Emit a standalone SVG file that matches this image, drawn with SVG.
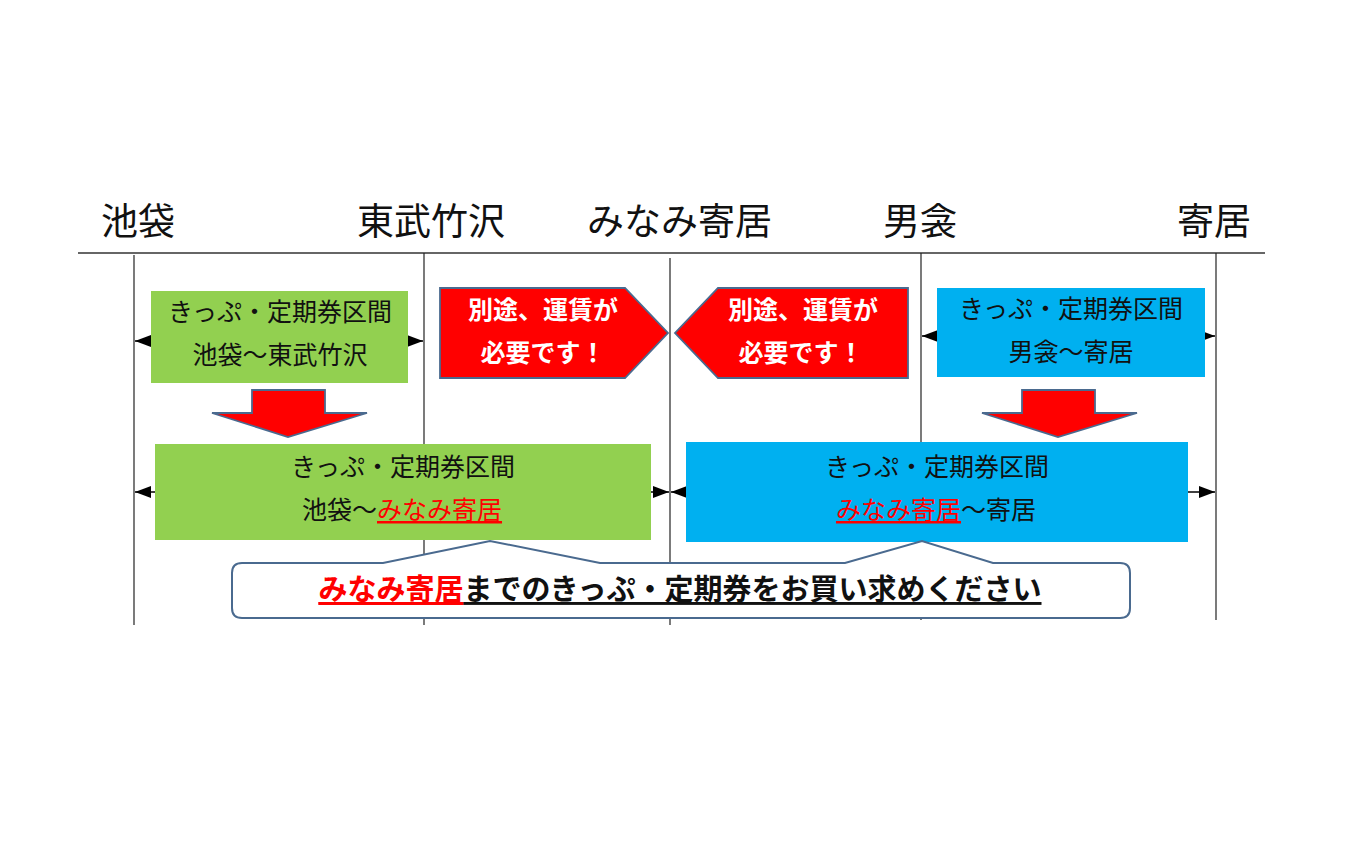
<svg xmlns="http://www.w3.org/2000/svg" width="1350" height="844" viewBox="0 0 1350 844">
<style>
.stn{font-family:"Noto Sans CJK JP","Noto Sans",sans-serif;font-size:37px;fill:#111}
.bt{font-family:"Noto Sans CJK JP","Noto Sans",sans-serif;font-size:25px;fill:#111;text-anchor:middle}
.wt{font-family:"Noto Sans CJK JP","Noto Sans",sans-serif;font-size:25px;font-weight:bold;fill:#fff;text-anchor:middle}
.ct{font-family:"Noto Sans CJK JP","Noto Sans",sans-serif;font-size:29px;font-weight:bold;fill:#111;text-anchor:middle}
.red{fill:#ff0000}
.vl{stroke:#222;stroke-width:1.2;fill:none}
.dl{stroke:#000;stroke-width:1.5;marker-start:url(#ah);marker-end:url(#ah)}
.green{fill:#92d050}
.blue{fill:#00b0f0}
.pent{fill:#ff0000;stroke:#4a6a8f;stroke-width:1.8}
</style>
<defs>
<marker id="ah" markerUnits="userSpaceOnUse" markerWidth="16" markerHeight="12" refX="16" refY="6" orient="auto-start-reverse">
<path d="M0,0 L16,6 L0,12 Z" fill="#000"/>
</marker>
</defs>
<rect width="1350" height="844" fill="#fff"/>
<g id="stations">
<text class="stn" x="101" y="235">池袋</text>
<text class="stn" x="357" y="235">東武竹沢</text>
<text class="stn" x="587" y="235">みなみ寄居</text>
<text class="stn" x="883" y="235">男衾</text>
<text class="stn" x="1177" y="235">寄居</text>
</g>
<g id="connectors">
<line x1="78" y1="253" x2="1265" y2="253" stroke="#333" stroke-width="1.5"/>
<line class="vl" x1="134" y1="255" x2="134" y2="625"/>
<line class="vl" x1="424" y1="253" x2="424" y2="625"/>
<line class="vl" x1="670" y1="258" x2="670" y2="625"/>
<line class="vl" x1="921" y1="253" x2="921" y2="620"/>
<line class="vl" x1="1216" y1="253" x2="1216" y2="620"/>
<line class="dl" x1="135" y1="341" x2="423" y2="341"/>
<line class="dl" x1="922" y1="336" x2="1215" y2="336"/>
<line class="dl" x1="135" y1="492" x2="669" y2="492"/>
<line class="dl" x1="671" y1="492" x2="1215" y2="492"/>
</g>
<g id="box-ikebukuro-tobu">
<rect class="green" x="151" y="291" width="257" height="92"/>
<text class="bt" x="280" y="321">きっぷ・定期券区間</text>
<text class="bt" x="280" y="364">池袋～東武竹沢</text>
</g>
<g id="fare-left">
<polygon class="pent" points="440,288 625,288 668,333 625,378 440,378"/>
<text class="wt" x="543" y="319">別途、運賃が</text>
<text class="wt" x="543" y="362">必要です！</text>
</g>
<g id="fare-right">
<polygon class="pent" points="908,288 718,288 675,333 718,378 908,378"/>
<text class="wt" x="803" y="319">別途、運賃が</text>
<text class="wt" x="801" y="362">必要です！</text>
</g>
<g id="box-obusuma-yorii">
<rect class="blue" x="937" y="288" width="268" height="89"/>
<text class="bt" x="1071" y="318">きっぷ・定期券区間</text>
<text class="bt" x="1071" y="361">男衾～寄居</text>
</g>
<g id="arrow-left">
<polygon class="pent" points="252,390 325,390 325,413 367,413 288,437 212,413 252,413"/>
</g>
<g id="arrow-right">
<polygon class="pent" points="1022,390 1095,390 1095,413 1137,413 1058,437 982,413 1022,413"/>
</g>
<g id="box-ikebukuro-minamiyorii">
<rect class="green" x="155" y="444" width="496" height="96"/>
<text class="bt" x="403" y="476">きっぷ・定期券区間</text>
<text class="bt" x="402" y="519">池袋～<tspan class="red" text-decoration="underline">みなみ寄居</tspan></text>
</g>
<g id="box-minamiyorii-yorii">
<rect class="blue" x="686" y="442" width="502" height="100"/>
<text class="bt" x="937" y="476">きっぷ・定期券区間</text>
<text class="bt" x="936" y="519"><tspan class="red" text-decoration="underline">みなみ寄居</tspan>～寄居</text>
</g>
<g id="callout">
<path d="M242,563 H383 L490,541 L600,563 H845 L922,541 L993,563 H1120 Q1130,563 1130,573 V608 Q1130,618 1120,618 H242 Q232,618 232,608 V573 Q232,563 242,563 Z" fill="#fff" stroke="#4a6a8f" stroke-width="2"/>
<text class="ct" x="680" y="600" text-decoration="underline"><tspan class="red" text-decoration="underline">みなみ寄居</tspan>までのきっぷ・定期券をお買い求めください</text>
</g>
</svg>
